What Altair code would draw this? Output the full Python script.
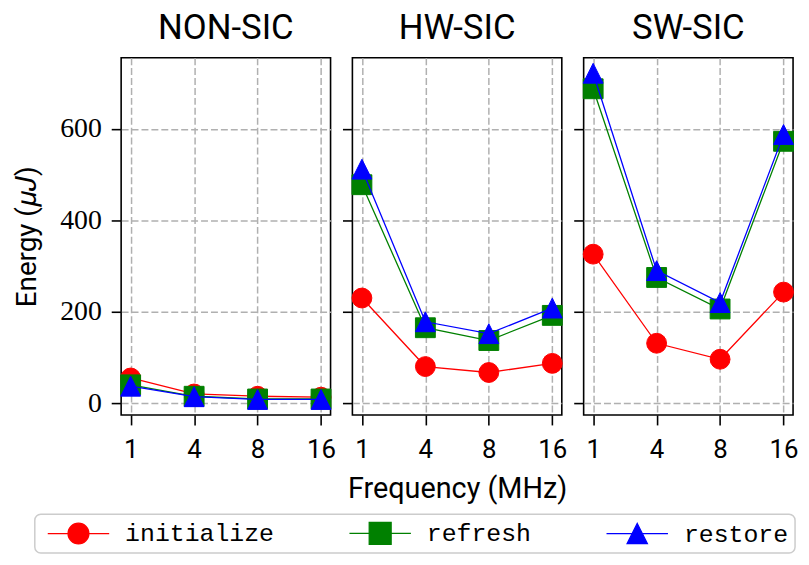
import altair as alt
import pandas as pd

systems = ["NON-SIC", "HW-SIC", "SW-SIC"]
freqs = ["1", "4", "8", "16"]
series_names = ["initialize", "refresh", "restore"]

nonsic_initialize = [55, 20, 15, 13]
nonsic_refresh = [40, 15, 9, 9]
nonsic_restore = [37, 14, 8, 8]
hwsic_initialize = [230, 80, 67, 87]
hwsic_refresh = [478, 165, 137, 192]
hwsic_restore = [512, 178, 152, 208]
swsic_initialize = [326, 131, 96, 243]
swsic_refresh = [688, 275, 206, 573]
swsic_restore = [722, 290, 220, 588]

values = {
    ("NON-SIC", "initialize"): nonsic_initialize,
    ("NON-SIC", "refresh"): nonsic_refresh,
    ("NON-SIC", "restore"): nonsic_restore,
    ("HW-SIC", "initialize"): hwsic_initialize,
    ("HW-SIC", "refresh"): hwsic_refresh,
    ("HW-SIC", "restore"): hwsic_restore,
    ("SW-SIC", "initialize"): swsic_initialize,
    ("SW-SIC", "refresh"): swsic_refresh,
    ("SW-SIC", "restore"): swsic_restore,
}

rows = []
for (sy, se), vals in values.items():
    for f, v in zip(freqs, vals):
        rows.append({"system": sy, "series": se, "freq": f, "energy": v})
df = pd.DataFrame(rows)

colors = ["red", "green", "blue"]
marker_shapes = ["circle", "square", "M0,-1L1,1L-1,1Z"]
legend_paths = [
    "M-2.58,0H2.58M0.875,0A0.875,0.875,0,1,1,-0.875,0A0.875,0.875,0,1,1,0.875,0Z",
    "M-2.58,0H2.58M-0.92,-0.92H0.92V0.92H-0.92Z",
    "M-2.58,0H2.58M0,-0.85L0.85,0.85L-0.85,0.85Z",
]

SANS = "Roboto"

legend_layer = (
    alt.Chart(pd.DataFrame({"series": series_names}))
    .transform_filter("false")
    .mark_point(filled=True, opacity=1)
    .encode(
        shape=alt.Shape("series:N", scale=alt.Scale(domain=series_names, range=legend_paths), title=None),
        fill=alt.Fill("series:N", scale=alt.Scale(domain=series_names, range=colors), title=None),
        stroke=alt.Stroke("series:N", scale=alt.Scale(domain=series_names, range=colors), title=None),
    )
)


def make_panel(i, system):
    d = df[df.system == system]
    xaxis_kw = dict(
        labelAngle=0, labelFont=SANS, labelFontSize=26, labelColor="black",
        tickSize=10, tickWidth=1.6, tickColor="black", labelPadding=12,
        domain=False, grid=True, gridColor="#b0b0b0", gridDash=[7, 3], gridWidth=1.5,
        titleFont=SANS, titleFontSize=29, titleFontWeight="normal", titleColor="black", titlePadding=12,
    )
    xaxis_kw["title"] = "Frequency (MHz)" if i == 1 else None
    yaxis_kw = dict(
        values=[0, 200, 400, 600], labels=(i == 0), labelFont="Liberation Serif", labelFontSize=28,
        labelColor="black", tickSize=10, tickWidth=1.6, tickColor="black", labelPadding=10,
        domain=False, grid=True, gridColor="#b0b0b0", gridDash=[7, 3], gridWidth=1.5,
        titleFont=SANS, titleFontSize=28, titleFontWeight="normal", titleColor="black", titlePadding=18,
    )
    yaxis_kw["title"] = "Energy (\U0001D707\U0001D43D)" if i == 0 else None
    xenc = alt.X("freq:N", sort=freqs, scale=alt.Scale(type="point", domain=freqs, padding=0.15),
                 axis=alt.Axis(**xaxis_kw))
    yenc = alt.Y("energy:Q", scale=alt.Scale(domain=[-26, 756], nice=False, zero=False),
                 axis=alt.Axis(**yaxis_kw))
    layers = []
    for s, col, shp in zip(series_names, colors, marker_shapes):
        base = alt.Chart(d).transform_filter(alt.datum.series == s).encode(x=xenc, y=yenc)
        layers.append(base.mark_line(color=col, strokeWidth=1.3))
        layers.append(base.mark_point(shape=shp, size=400, filled=True, fill=col,
                                      stroke=col, strokeWidth=1, opacity=1))
    if i == 1:
        layers.append(legend_layer)
    return alt.layer(*layers).properties(
        width=211, height=360,
        title=alt.TitleParams(system, font=SANS, fontSize=35, fontWeight="normal", color="black", offset=12),
    )


panels = [make_panel(i, s) for i, s in enumerate(systems)]

chart = (
    alt.hconcat(*panels, spacing=22, bounds="flush")
    .configure_view(stroke="black", strokeWidth=1.6)
    .configure_legend(
        orient="none", legendX=-87, legendY=460, direction="horizontal", columns=3,
        symbolSize=576, symbolStrokeWidth=1.3, symbolOffset=25, labelOffset=34,
        labelFont="Liberation Mono", labelFontSize=25, labelColor="black",
        padding=6, strokeColor="#cccccc", strokeWidth=1.5, cornerRadius=6, fillColor="white",
        columnPadding=68,
    )
    .properties(background="white", padding={"left": 5, "top": 0, "right": 2, "bottom": 0})
)

chart.save("out.html", embed_options={"renderer": "svg", "actions": False})
